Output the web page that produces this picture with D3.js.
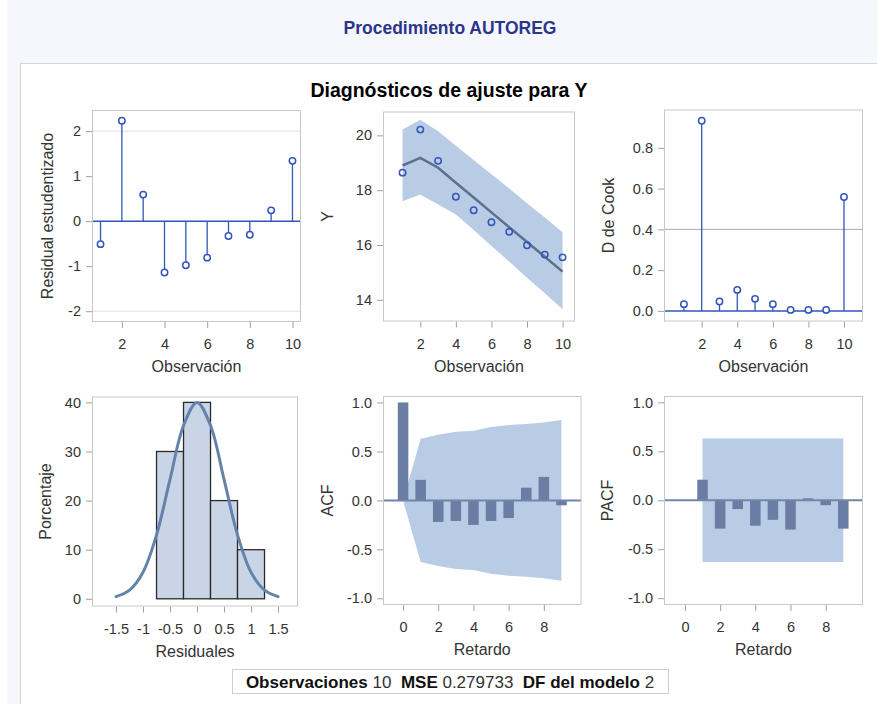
<!DOCTYPE html>
<html><head><meta charset="utf-8">
<script src="https://cdn.jsdelivr.net/npm/d3@7"></script>
<style>
body{margin:0;background:#fff;}
svg text{font-family:Arial,"Liberation Sans",sans-serif;}
</style></head>
<body><svg id="c" width="877" height="704"></svg>
<script>
// ---- data ----
const obs = [1,2,3,4,5,6,7,8,9,10];
const residStud = [-0.51, 2.23, 0.59, -1.14, -0.98, -0.81, -0.33, -0.30, 0.24, 1.34];
const yObs   = [18.64, 20.21, 19.07, 17.76, 17.27, 16.83, 16.48, 15.99, 15.65, 15.55];
const yPred  = [18.90, 19.18, 18.82, 18.27, 17.73, 17.19, 16.65, 16.11, 15.57, 15.03];
const yUpper = [20.21, 20.57, 20.15, 19.62, 19.10, 18.58, 18.06, 17.52, 17.00, 16.47];
const yLower = [17.60, 17.84, 17.48, 17.11, 16.55, 15.96, 15.40, 14.81, 14.24, 13.66];
const cookD  = [0.033, 0.933, 0.046, 0.103, 0.059, 0.033, 0.005, 0.005, 0.005, 0.559];
const cookRef = 0.4;
const residRefs = [-2, 2];
const binLo  = [-0.75, -0.25, 0.25, 0.75];
const binHi  = [-0.25, 0.25, 0.75, 1.25];
const binPct = [30, 40, 20, 10];
const curveX = [-1.5,-1.25,-1,-0.75,-0.5,-0.25,0,0.25,0.5,0.75,1,1.25,1.5];
const curveY = [0.44,1.75,5.4,13.0,24.3,35.3,40,35.3,24.3,13.0,5.4,1.75,0.44];
const acfLags = [0,1,2,3,4,5,6,7,8,9];
const acfVals = [1.0, 0.21, -0.22, -0.21, -0.25, -0.21, -0.18, 0.13, 0.24, -0.05];
const acfBand = [0, 0.63, 0.67, 0.70, 0.71, 0.75, 0.77, 0.78, 0.795, 0.82];
const pacfLags = [1,2,3,4,5,6,7,8,9];
const pacfVals = [0.21, -0.29, -0.09, -0.26, -0.20, -0.30, 0.02, -0.05, -0.29];
const pacfBandLags = [1, 9];
const pacfBand = [0.63, 0.63];
const obsTicks = [2,4,6,8,10];
const residTicks = [-2,-1,0,1,2];
const yTicks = [14,16,18,20];
const cookTicks = [0,0.2,0.4,0.6,0.8];
const histXTicks = [-1.5,-1,-0.5,0,0.5,1,1.5];
const histYTicks = [0,10,20,30,40];
const lagTicks = [0,2,4,6,8];
const corrTicks = [-1,-0.5,0,0.5,1];
const footer = [["Observaciones",true],[" 10  ",false],["MSE",true],[" 0.279733  ",false],["DF del modelo",true],[" 2",false]];

// ---- colours ----
const BLUE = "#3355bb", BAND = "#b8cce6", FIT = "#5d7090", BAR = "#6a7ea3";
const TICKFS = 14.5, LABFS = 16;

const svg = d3.select("#c");
svg.append("rect").attr("x",7).attr("y",0).attr("width",870).attr("height",704).attr("fill","#f6f7fc");
svg.append("rect").attr("x",20.5).attr("y",63.5).attr("width",870).attr("height",700).attr("fill","#fff").attr("stroke","#d4d4d4");
svg.append("text").attr("x",450).attr("y",34).attr("text-anchor","middle").attr("font-size",17.5).attr("font-weight","bold").attr("fill","#2b3589").text("Procedimiento AUTOREG");
svg.append("text").attr("x",449).attr("y",97).attr("text-anchor","middle").attr("font-size",19.5).attr("font-weight","bold").attr("fill","#000").text("Diagnósticos de ajuste para Y");

function panel(o){
  const x = d3.scaleLinear().domain(o.xd).range([o.x0,o.x1]);
  const y = d3.scaleLinear().domain(o.yd).range([o.y1,o.y0]);
  const g = svg.append("g");
  const gx = g.append("g").attr("transform",`translate(0,${o.y1})`)
    .call(d3.axisBottom(x).tickValues(o.xt).tickSize(6).tickPadding(11).tickFormat(o.xf||(d=>String(d))));
  const gy = g.append("g").attr("transform",`translate(${o.x0},0)`)
    .call(d3.axisLeft(y).tickValues(o.yt).tickSize(6).tickPadding(5).tickFormat(o.yf||(d=>String(d))));
  [gx,gy].forEach(a=>{a.select(".domain").remove();a.selectAll("line").attr("stroke","#a0a0a0");
    a.selectAll("text").attr("font-size",TICKFS).attr("fill","#333").attr("font-family","Arial,'Liberation Sans',sans-serif");});
  const clipId = "clip"+Math.round(o.x0)+"_"+Math.round(o.y0);
  g.append("clipPath").attr("id",clipId).append("rect").attr("x",o.x0).attr("y",o.y0).attr("width",o.x1-o.x0).attr("height",o.y1-o.y0);
  const inner = g.append("g").attr("clip-path",`url(#${clipId})`);
  o.draw(inner,x,y);
  g.append("rect").attr("x",o.x0+0.5).attr("y",o.y0+0.5).attr("width",o.x1-o.x0-1).attr("height",o.y1-o.y0-1).attr("fill","none").attr("stroke","#c4c8cc");
  g.append("text").attr("x",(o.x0+o.x1)/2).attr("y",o.y1+50).attr("text-anchor","middle").attr("font-size",LABFS).attr("fill","#333").text(o.xl);
  g.append("text").attr("transform",`translate(${o.ylx},${(o.y0+o.y1)/2}) rotate(-90)`).attr("text-anchor","middle").attr("dy","0.35em").attr("font-size",LABFS).attr("fill","#333").text(o.yl);
}
const f1 = d=>d.toFixed(1);

function stems(inner,x,y,vals){
  inner.append("line").attr("x1",x.range()[0]).attr("x2",x.range()[1]).attr("y1",y(0)).attr("y2",y(0)).attr("stroke",BLUE).attr("stroke-width",1.5);
  inner.selectAll(".s").data(vals).enter().append("line").attr("x1",(d,i)=>x(obs[i])).attr("x2",(d,i)=>x(obs[i]))
    .attr("y1",y(0)).attr("y2",d=>y(d)).attr("stroke",BLUE).attr("stroke-width",1.3);
  inner.selectAll(".m").data(vals).enter().append("circle").attr("cx",(d,i)=>x(obs[i])).attr("cy",d=>y(d)).attr("r",3.2)
    .attr("fill","#fff").attr("stroke",BLUE).attr("stroke-width",1.5);
}

// 1 residual
panel({x0:92,x1:301,y0:110,y1:322,xd:[0.6,10.4],yd:[-2.24,2.47],xt:obsTicks,yt:residTicks,xl:"Observación",yl:"Residual estudentizado",ylx:47,
  draw:(g,x,y)=>{
    residRefs.forEach(r=>g.append("line").attr("x1",92).attr("x2",301).attr("y1",y(r)).attr("y2",y(r)).attr("stroke","#e8dcdc").attr("stroke-width",1));
    stems(g,x,y,residStud);
  }});
// 2 fit
panel({x0:383,x1:575,y0:111.5,y1:321.5,xd:[-0.1,10.7],yd:[13.21,20.87],xt:obsTicks,yt:yTicks,xl:"Observación",yl:"Y",ylx:327,
  draw:(g,x,y)=>{
    g.append("path").datum(obs).attr("d",d3.area().x((d,i)=>x(obs[i])).y0((d,i)=>y(yLower[i])).y1((d,i)=>y(yUpper[i]))).attr("fill",BAND);
    g.append("path").datum(obs).attr("d",d3.line().x((d,i)=>x(obs[i])).y((d,i)=>y(yPred[i]))).attr("fill","none").attr("stroke",FIT).attr("stroke-width",2.5);
    g.selectAll(".o").data(yObs).enter().append("circle").attr("cx",(d,i)=>x(obs[i])).attr("cy",d=>y(d)).attr("r",3.2)
      .attr("fill","none").attr("stroke",BLUE).attr("stroke-width",1.5);
  }});
// 3 cook
panel({x0:664,x1:863,y0:109.5,y1:321.5,xd:[-0.12,11.07],yd:[-0.052,0.988],xt:obsTicks,yt:cookTicks,yf:f1,xl:"Observación",yl:"D de Cook",ylx:608,
  draw:(g,x,y)=>{
    g.append("line").attr("x1",664).attr("x2",863).attr("y1",y(cookRef)).attr("y2",y(cookRef)).attr("stroke","#a9a9a9").attr("stroke-width",1);
    stems(g,x,y,cookD);
  }});
// 4 histogram
panel({x0:92,x1:298,y0:396.5,y1:606.5,xd:[-1.945,1.87],yd:[-1.57,41.2],xt:histXTicks,yt:histYTicks,xl:"Residuales",yl:"Porcentaje",ylx:45,
  draw:(g,x,y)=>{
    g.selectAll(".b").data(binPct).enter().append("rect").attr("x",(d,i)=>x(binLo[i])).attr("width",(d,i)=>x(binHi[i])-x(binLo[i]))
      .attr("y",d=>y(d)).attr("height",d=>y(0)-y(d)).attr("fill","#c9d5e6").attr("stroke","#2a2a2a").attr("stroke-width",1.3);
    g.append("path").datum(curveX).attr("d",d3.line().curve(d3.curveCatmullRom).x((d,i)=>x(curveX[i])).y((d,i)=>y(curveY[i])))
      .attr("fill","none").attr("stroke","#6483ab").attr("stroke-width",3).attr("stroke-linecap","round");
  }});
// 5 ACF
panel({x0:383,x1:581.5,y0:396,y1:605,xd:[-1.14,10.14],yd:[-1.068,1.066],xt:lagTicks,yt:corrTicks,yf:f1,xl:"Retardo",yl:"ACF",ylx:327,
  draw:(g,x,y)=>{
    g.append("path").datum(acfLags).attr("d",d3.area().x((d,i)=>x(acfLags[i])).y0((d,i)=>y(-acfBand[i])).y1((d,i)=>y(acfBand[i]))).attr("fill",BAND);
    const w = x(0.6)-x(0);
    g.selectAll(".b").data(acfVals).enter().append("rect").attr("x",(d,i)=>x(acfLags[i])-w/2).attr("width",w)
      .attr("y",d=>y(Math.max(0,d))).attr("height",d=>Math.abs(y(d)-y(0))).attr("fill",BAR);
    g.append("line").attr("x1",383).attr("x2",581.5).attr("y1",y(0)).attr("y2",y(0)).attr("stroke","#6f86a8").attr("stroke-width",2);
  }});
// 6 PACF
panel({x0:664,x1:863,y0:396,y1:605,xd:[-1.19,10.12],yd:[-1.07,1.065],xt:lagTicks,yt:corrTicks,yf:f1,xl:"Retardo",yl:"PACF",ylx:607,
  draw:(g,x,y)=>{
    g.append("path").datum(pacfBandLags).attr("d",d3.area().x((d,i)=>x(pacfBandLags[i])).y0((d,i)=>y(-pacfBand[i])).y1((d,i)=>y(pacfBand[i]))).attr("fill",BAND);
    const w = x(0.6)-x(0);
    g.selectAll(".b").data(pacfVals).enter().append("rect").attr("x",(d,i)=>x(pacfLags[i])-w/2).attr("width",w)
      .attr("y",d=>y(Math.max(0,d))).attr("height",d=>Math.abs(y(d)-y(0))).attr("fill",BAR);
    g.append("line").attr("x1",664).attr("x2",863).attr("y1",y(0)).attr("y2",y(0)).attr("stroke","#6f86a8").attr("stroke-width",2);
  }});

// footer
svg.append("rect").attr("x",232.5).attr("y",669.5).attr("width",436).attr("height",24).attr("fill","#fff").attr("stroke","#cfcfcf");
const ft = svg.append("text").attr("x",450).attr("y",687.5).attr("text-anchor","middle").attr("font-size",17).attr("fill","#111").attr("xml:space","preserve");
footer.forEach(([t,b])=>ft.append("tspan").attr("font-weight",b?"bold":"normal").attr("fill",b?"#111":"#333").text(t));
</script></body></html>
